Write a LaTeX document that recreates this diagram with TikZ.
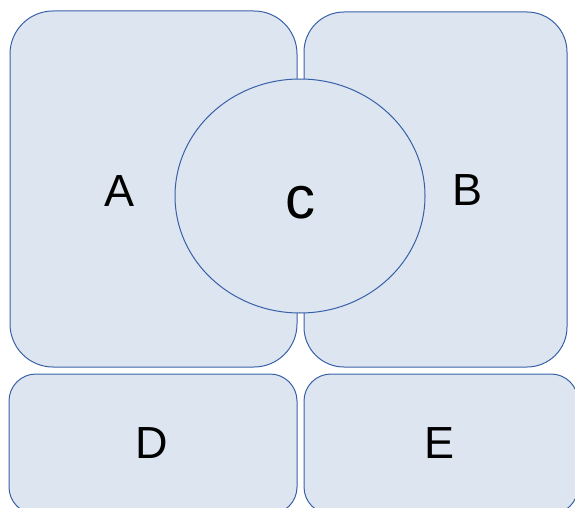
\documentclass[tikz,border=0pt]{standalone}
\usepackage{fontspec}
\setmainfont{Liberation Sans}
\usetikzlibrary{shapes.geometric}
\definecolor{boxfill}{RGB}{221,230,240}
\definecolor{boxline}{RGB}{56,96,168}
\tikzset{
  panel/.style={draw=boxline, fill=boxfill, line width=1pt},
  lbl/.style={font=\fontsize{45}{50}\selectfont, text=black, inner sep=0pt}
}
\begin{document}
\begin{tikzpicture}[x=1pt,y=-1pt]
\useasboundingbox (0,0) rectangle (575,508);
\draw[panel, rounded corners=43pt] (10,11) rectangle (297,367);
\draw[panel, rounded corners=40pt] (304,12) rectangle (567,367);
\draw[panel, rounded corners=27pt] (9,374) rectangle (297,514);
\draw[panel, rounded corners=27pt] (304,374) rectangle (578,514);
\draw[panel] (300,196) ellipse [x radius=125, y radius=117];
\node[lbl] (A) at (120,191) {A};
\node[lbl] (B) at (468,190) {B};
\node[lbl, font=\fontsize{60}{64}\selectfont, anchor=base] (C) at (300,218) {c};
\node[lbl] (D) at (152,443) {D};
\node[lbl] (E) at (440,443) {E};
\end{tikzpicture}
\end{document}
